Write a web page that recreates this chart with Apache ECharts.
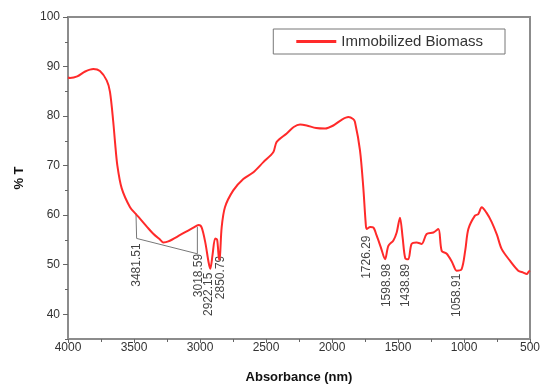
<!DOCTYPE html>
<html><head><meta charset="utf-8">
<script src="https://cdn.jsdelivr.net/npm/echarts@6/dist/echarts.min.js"></script>
<style>html,body{margin:0;padding:0;background:#fff}#c{width:543px;height:385px}</style>
</head><body><div id="c"></div>
<script>
var wavenumbers = [4000,3985,3930,3870,3808,3758,3707,3682,3657,3644,3626,3593,3530,3485,3455,3400,3356,3300,3278,3240,3150,3050,3010,2987,2960,2935,2922,2905,2885,2870,2855,2848,2836,2811,2748,2672,2598,2520,2445,2419,2343,2290,2242,2192,2120,2053,1990,1930,1876,1840,1826,1788,1763,1745,1737,1710,1687,1662,1630,1598,1573,1535,1510,1485,1465,1445,1422,1397,1359,1321,1283,1232,1194,1169,1131,1090,1056,1018,990,967,917,892,866,830,790,750,715,652,589,551,525,510,500];
var transmittance = [87.8,87.7,88.0,89.0,89.5,89.1,87.2,84.9,78.8,74.8,70.0,65.4,61.6,60.2,59.3,57.6,56.3,55.0,54.5,54.7,56.0,57.5,58.0,57.5,54.5,50.5,49.2,52.0,55.3,55.0,51.0,52.0,57.5,61.6,65.0,67.3,68.6,70.7,72.7,74.8,76.5,77.8,78.3,78.1,77.6,77.5,78.1,79.2,79.8,79.4,78.8,73.1,65.6,58.5,57.2,57.6,57.5,55.9,53.5,51.1,53.8,54.9,56.5,59.5,55.5,51.3,51.1,54.2,54.5,54.2,56.2,56.5,57.2,52.8,52.2,50.5,48.8,49.1,53.0,57.2,59.9,60.2,61.6,60.5,58.6,56.0,53.2,50.8,48.8,48.4,48.1,48.6,48.8];
var peakLabels = ['3481.51','3018.59','2922.15','2850.79','1726.29','1598.98','1438.89','1058.91'];
var peakLabelX = [3477,3010,2932,2841,1735,1583,1439,1053];
var peakLabelY = [54.3,52.2,48.4,51.8,55.9,50.2,50.2,48.2];
var bracketX = [3485,3480,3020,3020];
var bracketY = [60.3,55.3,52.2,57.6];
var yMajor = [40,50,60,70,80,90,100];
var seriesName = 'Immobilized Biomass';

var curve = wavenumbers.map(function(v,i){return [v, transmittance[i]];});
var bracket = bracketX.map(function(v,i){return [v, bracketY[i]];});
var peaks = peakLabels.map(function(t,i){return {name:t, value:[peakLabelX[i], peakLabelY[i]]};});

var chart = echarts.init(document.getElementById('c'));
var axisFont = {fontFamily:'Liberation Sans, Arial, sans-serif', fontSize:12, color:'#333'};
chart.setOption({
  animation:false,
  grid:{left:68, right:13, top:17, bottom:46, show:true, borderColor:'#8c8c8c', borderWidth:2, containLabel:false, outerBoundsMode:'none'},
  legend:{
    data:[seriesName], right:38, top:29, itemWidth:40, itemHeight:3, itemGap:7,
    padding:[5,22,5,23], borderColor:'#777', borderWidth:1, borderRadius:0,
    textStyle:{fontFamily:'Liberation Sans, Arial, sans-serif', fontSize:15, color:'#333'},
    icon:'rect'
  },
  xAxis:{
    type:'value', min:500, max:4000, interval:500, inverse:true,
    name:'Absorbance (nm)', nameLocation:'middle', nameGap:32,
    nameTextStyle:{fontFamily:'Liberation Sans, Arial, sans-serif', fontSize:13, fontWeight:'bold', color:'#111'},
    axisLine:{lineStyle:{color:'#8c8c8c', width:2}},
    axisTick:{length:4, lineStyle:{color:'#666'}},
    minorTick:{show:true, splitNumber:2, length:3, lineStyle:{color:'#666'}},
    splitLine:{show:false},
    axisLabel:Object.assign({margin:3, formatter:function(v){return String(v);}}, axisFont)
  },
  yAxis:[{
    type:'value', min:35, max:100,
    name:'% T', nameLocation:'middle', nameGap:42, nameRotate:90,
    nameTextStyle:{fontFamily:'Liberation Sans, Arial, sans-serif', fontSize:13, fontWeight:'bold', color:'#111'},
    axisLine:{show:true, lineStyle:{color:'#8c8c8c', width:2}},
    axisTick:{show:true, length:5, customValues:yMajor, lineStyle:{color:'#666'}},
    splitLine:{show:false},
    axisLabel:Object.assign({margin:8, customValues:yMajor}, axisFont)
  },{
    type:'value', min:35, max:100, interval:5, position:'left',
    axisLine:{show:false},
    axisTick:{show:true, length:3, lineStyle:{color:'#666'}},
    axisLabel:{show:false}, splitLine:{show:false}
  }],
  series:[{
    name:seriesName, type:'line', data:curve, showSymbol:false, smooth:0.3,
    lineStyle:{color:'#ff2a2a', width:2}, itemStyle:{color:'#ff2a2a'}, z:3
  },{
    type:'line', data:bracket, showSymbol:false, silent:true,
    lineStyle:{color:'#777', width:1}, z:2
  },{
    type:'scatter', data:peaks, symbolSize:0, silent:true,
    label:{show:true, formatter:'{b}', position:[0,0], rotate:90, align:'right', verticalAlign:'middle',
      fontFamily:'Liberation Sans, Arial, sans-serif', fontSize:12, color:'#111'}
  }]
});
</script></body></html>
